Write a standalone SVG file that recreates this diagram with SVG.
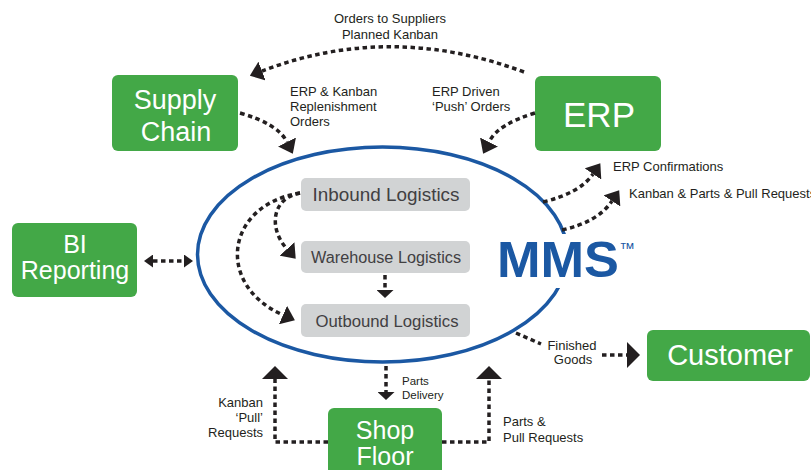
<svg xmlns="http://www.w3.org/2000/svg" width="811" height="470" viewBox="0 0 811 470">
<style>
.g{fill:#43a847}
.gt{fill:#fff;font-family:"Liberation Sans",Arial,sans-serif;text-anchor:middle}
.b{fill:#d1d3d4}
.bt{fill:#414042;font-family:"Liberation Sans",Arial,sans-serif;text-anchor:middle}
.lb{fill:#231f20;font-family:"Liberation Sans",Arial,sans-serif;font-size:13px}
.c{fill:none;stroke:#231f20;stroke-width:3.5;stroke-dasharray:4.5 3.5}
</style>
<defs>
<marker id="aL" markerUnits="userSpaceOnUse" viewBox="0 0 13 26" refX="0" refY="13" markerWidth="13" markerHeight="26" orient="auto"><path d="M0,0 L13,13 L0,26 z" fill="#231f20"/></marker>
<marker id="aM" markerUnits="userSpaceOnUse" viewBox="0 0 13 20" refX="0" refY="10" markerWidth="13" markerHeight="20" orient="auto"><path d="M0,0 L13,10 L0,20 z" fill="#231f20"/></marker>
<marker id="aS" markerUnits="userSpaceOnUse" viewBox="0 0 8 17" refX="0" refY="8.5" markerWidth="8" markerHeight="17" orient="auto"><path d="M0,0 L8,8.5 L0,17 z" fill="#231f20"/></marker>
<marker id="aB" markerUnits="userSpaceOnUse" viewBox="0 0 9 13" refX="0" refY="6.5" markerWidth="9" markerHeight="13" orient="auto-start-reverse"><path d="M0,0 L9,6.5 L0,13 z" fill="#231f20"/></marker>
</defs>
<rect width="811" height="470" fill="#fff"/>

<g id="mms">
<ellipse cx="382.5" cy="254.5" rx="185" ry="107.5" fill="none" stroke="#1b58a3" stroke-width="3.5"/>
<rect x="492" y="234" width="150" height="54" fill="#fff"/>
<text x="497" y="277" font-family="Liberation Sans,Arial,sans-serif" font-weight="bold" font-size="50" fill="#1b58a3" textLength="122" lengthAdjust="spacingAndGlyphs">MMS</text>
<text x="619" y="254" font-family="Liberation Sans,Arial,sans-serif" font-size="16" fill="#1b58a3">™</text>
</g>

<g id="supply-chain">
<rect class="g" x="112" y="75" width="126" height="76" rx="6"/>
<text class="gt" x="175" y="109" font-size="27">Supply</text>
<text class="gt" x="176" y="141" font-size="27">Chain</text>
</g>
<g id="erp">
<rect class="g" x="535" y="76" width="126" height="75" rx="6"/>
<text class="gt" x="599" y="127" font-size="35">ERP</text>
</g>
<g id="bi-reporting">
<rect class="g" x="12" y="223" width="125" height="74" rx="6"/>
<text class="gt" x="75" y="253" font-size="25">BI</text>
<text class="gt" x="75" y="279" font-size="25">Reporting</text>
</g>
<g id="customer">
<rect class="g" x="647" y="330" width="163" height="51" rx="6"/>
<text class="gt" x="730" y="365" font-size="29">Customer</text>
</g>
<g id="shop-floor">
<rect class="g" x="328" y="408" width="114" height="70" rx="6"/>
<text class="gt" x="385" y="439" font-size="25">Shop</text>
<text class="gt" x="385" y="465" font-size="25">Floor</text>
</g>
<g id="inbound">
<rect class="b" x="301" y="178" width="169" height="33" rx="5"/>
<text class="bt" x="386" y="201" font-size="18" textLength="147" lengthAdjust="spacingAndGlyphs">Inbound Logistics</text>
</g>
<g id="warehouse">
<rect class="b" x="301" y="241" width="169" height="32" rx="5"/>
<text class="bt" x="386" y="263" font-size="16" textLength="150" lengthAdjust="spacingAndGlyphs">Warehouse Logistics</text>
</g>
<g id="outbound">
<rect class="b" x="301" y="304" width="169" height="33" rx="5"/>
<text class="bt" x="387" y="327" font-size="16.5" textLength="143" lengthAdjust="spacingAndGlyphs">Outbound Logistics</text>
</g>

<g id="connectors">
<path class="c" d="M524,72 Q390,22 262,71" marker-end="url(#aM)"/>
<path class="c" d="M240,113 Q278,124 287,142" marker-end="url(#aM)"/>
<path class="c" d="M535,113 Q498,124 489,142" marker-end="url(#aM)"/>
<path class="c" d="M543,202 Q580,193 593,174" marker-end="url(#aM)"/>
<path class="c" d="M562,230 Q598,222 612,201" marker-end="url(#aM)"/>
<path class="c" d="M153,261 L184,261" marker-start="url(#aB)" marker-end="url(#aB)"/>
<path class="c" d="M300,193 C272,198 268,228 287,249" marker-end="url(#aM)"/>
<path class="c" d="M300,193 C225,205 215,285 283,315" marker-end="url(#aM)"/>
<path class="c" d="M385,275 L385,290" marker-end="url(#aS)"/>
<path class="c" d="M386,366 L386,392" marker-end="url(#aS)"/>
<path class="c" d="M328,442 L275,442 L275,379" marker-end="url(#aL)"/>
<path class="c" d="M442,442 L489,442 L489,379" marker-end="url(#aL)"/>
<path class="c" d="M516,333 L541,344"/>
<path class="c" d="M602,355 L627,355" marker-end="url(#aL)"/>
</g>

<g id="labels">
<text class="lb" x="390" y="23" text-anchor="middle">Orders to Suppliers</text>
<text class="lb" x="390" y="39" text-anchor="middle">Planned Kanban</text>
<text class="lb" x="290" y="96">ERP &amp; Kanban</text>
<text class="lb" x="290" y="111">Replenishment</text>
<text class="lb" x="290" y="126">Orders</text>
<text class="lb" x="432" y="96">ERP Driven</text>
<text class="lb" x="432" y="111">‘Push’ Orders</text>
<text class="lb" x="613" y="171">ERP Confirmations</text>
<text class="lb" x="629" y="198">Kanban &amp; Parts &amp; Pull Requests</text>
<text class="lb" x="572" y="350" text-anchor="middle">Finished</text>
<text class="lb" x="573" y="364" text-anchor="middle">Goods</text>
<text class="lb" x="402" y="385" style="font-size:11.5px">Parts</text>
<text class="lb" x="402" y="399" style="font-size:11.5px">Delivery</text>
<text class="lb" x="263" y="407" text-anchor="end">Kanban</text>
<text class="lb" x="263" y="422" text-anchor="end">‘Pull’</text>
<text class="lb" x="263" y="437" text-anchor="end">Requests</text>
<text class="lb" x="503" y="426">Parts &amp;</text>
<text class="lb" x="503" y="442">Pull Requests</text>
</g>
</svg>
